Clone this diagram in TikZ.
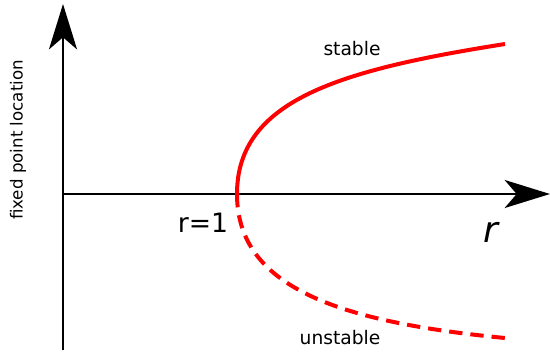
\documentclass[tikz,border=0pt]{standalone}
\usepackage{fontspec}
\setmainfont{DejaVu Sans}
\usetikzlibrary{arrows.meta}

\begin{document}
\begin{tikzpicture}[
  x=0.75pt, y=-0.75pt,
  axis/.style={line width=1.9pt, -{Stealth[length=34pt, width=21pt, inset=9pt]}},
  branch/.style={draw=red, line width=3pt},
  lbl/.style={inner sep=0pt, font=\fontsize{14}{17}\selectfont}
]
\useasboundingbox (0,0) rectangle (550,354);
% Axes: fixed point location against r
\coordinate (ybot) at (63,350);
\coordinate (ytop) at (63,4);
\coordinate (o) at (63,194);
\coordinate (xend) at (550,194);
\draw[axis] (ybot) -- (ytop);
\draw[axis] (o) -- (xend);
% Bifurcation at r=1: stable branch above, unstable branch below
\coordinate (bif) at (237,194);
\coordinate (up) at (505,44);
\coordinate (down) at (505,338);
\draw[branch] (bif) .. controls (237,100) and (340,70) .. (up);
\draw[branch, dash pattern=on 10pt off 6pt] (bif) .. controls (237,288) and (340,322) .. (down);
% Labels
\node[lbl] (stab) at (352,49) {stable};
\node[lbl] (unstab) at (340,338) {unstable};
\node[lbl, font=\fontsize{20}{24}\selectfont] (rone) at (203,223) {r=1};
\node[lbl, font=\fontsize{27}{32}\selectfont\itshape] (rlab) at (491,232) {r};
\node[lbl, font=\fontsize{12.5}{15}\selectfont, rotate=90] (ylab) at (18,140) {fixed point location};
\end{tikzpicture}
\end{document}
